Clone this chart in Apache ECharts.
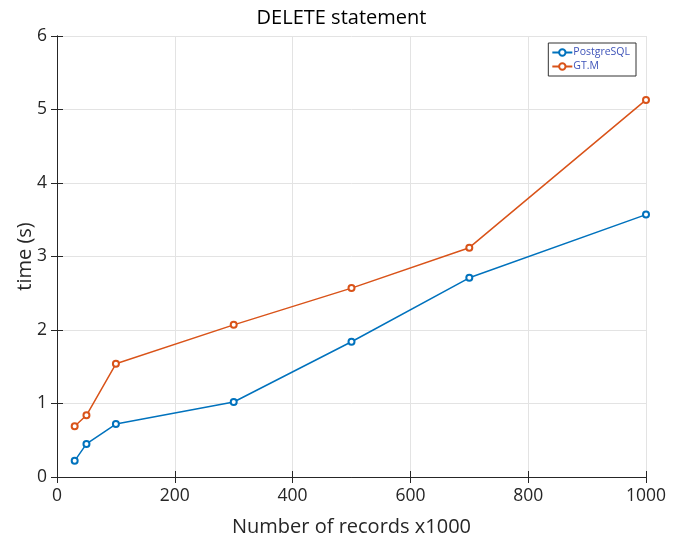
<!DOCTYPE html>
<html><head><meta charset="utf-8">
<script src="https://cdn.jsdelivr.net/npm/echarts@6/dist/echarts.min.js"></script>
<style>html,body{margin:0;padding:0;background:#fff}#c{width:683px;height:544px}</style>
</head><body><div id="c"></div>
<script>
const records = [30, 50, 100, 300, 500, 700, 1000];
const postgres = [0.22, 0.45, 0.72, 1.02, 1.84, 2.71, 3.57];
const gtm = [0.69, 0.84, 1.54, 2.07, 2.57, 3.12, 5.13];
const seriesNames = ['PostgreSQL', 'GT.M'];
const title = 'DELETE statement';
const xName = 'Number of records x1000';
const yName = 'time (s)';

const chart = echarts.init(document.getElementById('c'));
const font = 'Open Sans';
const axCol = '#262626';
const axisBase = {
  axisLine: {show: true, lineStyle: {color: axCol, width: 1}},
  axisTick: {show: true, inside: true, length: 6, lineStyle: {color: axCol}},
  axisLabel: {color: '#262626', fontSize: 17.5, fontFamily: font, margin: 10, formatter: v => String(v)},
  splitLine: {show: true, lineStyle: {color: '#e3e3e3', width: 1}}
};
chart.setOption({
  animation: false,
  backgroundColor: '#fff',
  title: {text: title, left: 'center', top: 3, textStyle: {fontFamily: font, fontSize: 20, fontWeight: 'normal', color: '#000'}},
  grid: {left: 57, right: 37, top: 36, bottom: 67, containLabel: false},
  legend: {
    data: seriesNames, orient: 'vertical', right: 47, top: 43,
    itemWidth: 20, itemHeight: 8, itemGap: 3,
    borderColor: '#333', borderWidth: 1, padding: [4, 6, 4, 3],
    backgroundColor: '#fff',
    textStyle: {color: '#3d52b8', fontSize: 10.5, fontFamily: font, padding: [0,0,0,-4]}
  },
  xAxis: [
    Object.assign({type: 'value', min: 0, max: 1000, interval: 200, name: xName, nameLocation: 'middle', nameGap: 40,
      nameMoveOverlap: false,
      nameTextStyle: {fontFamily: font, fontSize: 20, color: '#262626'}}, axisBase),
    {type: 'value', min: 0, max: 1000, interval: 200, position: 'top', axisLine: {show: true, lineStyle: {color: axCol}},
      axisTick: {show: true, inside: true, length: 6, lineStyle: {color: axCol}}, axisLabel: {show: false}, splitLine: {show: false}}
  ],
  yAxis: [
    Object.assign({type: 'value', min: 0, max: 6, interval: 1, name: yName, nameLocation: 'middle', nameGap: 22,
      nameMoveOverlap: false,
      nameTextStyle: {fontFamily: font, fontSize: 20, color: '#262626'}}, axisBase),
    {type: 'value', min: 0, max: 6, interval: 1, position: 'right', axisLine: {show: true, lineStyle: {color: axCol}},
      axisTick: {show: true, inside: true, length: 6, lineStyle: {color: axCol}}, axisLabel: {show: false}, splitLine: {show: false}}
  ],
  series: [
    {name: seriesNames[0], type: 'line', data: records.map((x, i) => [x, postgres[i]]),
      symbol: 'emptyCircle', symbolSize: 6, color: '#0072BD', lineStyle: {width: 1.5}, itemStyle: {borderWidth: 1.3}},
    {name: seriesNames[1], type: 'line', data: records.map((x, i) => [x, gtm[i]]),
      symbol: 'emptyCircle', symbolSize: 6, color: '#D95319', lineStyle: {width: 1.5}, itemStyle: {borderWidth: 1.3}}
  ]
});
</script></body></html>
